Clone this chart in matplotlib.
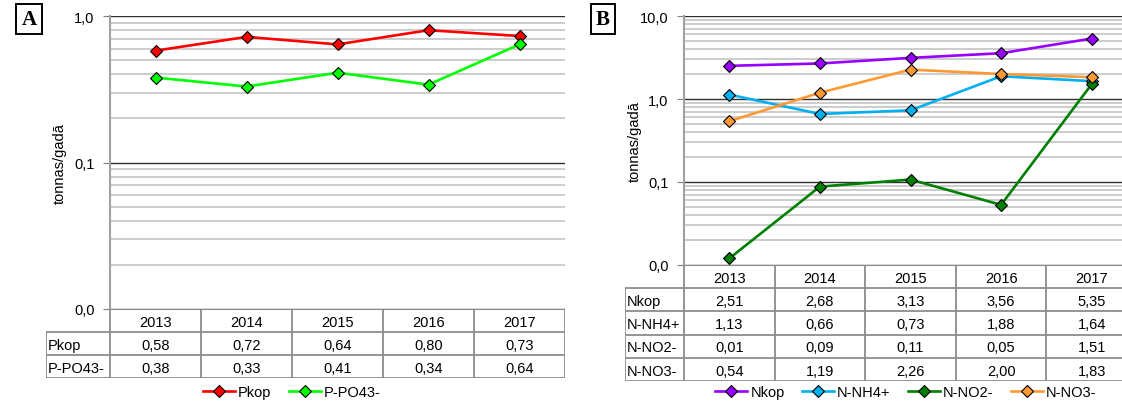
import matplotlib.pyplot as plt
import numpy as np

plt.rcParams['font.family'] = ['Liberation Sans', 'DejaVu Sans']

# Data
years = ["2013", "2014", "2015", "2016", "2017"]

p_names = ["Pkop", "P-PO43-"]
p_kop = [0.58, 0.72, 0.64, 0.80, 0.73]
p_po4 = [0.38, 0.33, 0.41, 0.34, 0.64]
p_colors = ["#ff0000", "#00ff00"]

n_names = ["Nkop", "N-NH4+", "N-NO2-", "N-NO3-"]
n_kop = [2.51, 2.68, 3.13, 3.56, 5.35]
n_nh4 = [1.13, 0.66, 0.73, 1.88, 1.64]
n_no2 = [0.012, 0.088, 0.107, 0.053, 1.51]
n_no3 = [0.54, 1.19, 2.26, 2.00, 1.83]
n_colors = ["#9900ff", "#00b0f0", "#008000", "#ff9933"]

W, H = 1122, 402
FS = 10.5
fig = plt.figure(figsize=(W / 100, H / 100), dpi=100)


def px_axes(x0, y0, x1, y1):
    return fig.add_axes([x0 / W, 1 - y1 / H, (x1 - x0) / W, (y1 - y0) / H])


def fmt(v):
    return f"{v:.2f}".replace(".", ",")


def draw_panel(plot_box, table_box, label_w, names, series, colors, ymin, ymax,
               yticks, ylab_x, letter, letter_xy, legend_xy):
    ax = px_axes(*plot_box)
    x = np.arange(len(years)) + 0.5
    for name, vals, c in zip(names, series, colors):
        ax.plot(x, vals, color=c, lw=1.9, marker="D", ms=6,
                mec="black", mew=0.8, label=name, zorder=3)
    ax.set_yscale("log")
    ax.set_ylim(ymin, ymax)
    ax.set_xlim(0, len(years))
    ax.set_yticks(yticks)
    ax.set_yticklabels([f"{t:.1f}".replace(".", ",") for t in yticks], fontsize=FS)
    ax.yaxis.set_minor_formatter(plt.NullFormatter())
    ax.set_xticks([])
    ax.tick_params(axis="y", which="major", length=5, color="#808080", pad=6)
    ax.tick_params(axis="y", which="minor", length=0)
    ax.grid(True, which="major", axis="y", color="#303030", lw=1.0)
    ax.grid(True, which="minor", axis="y", color="#c8c8c8", lw=1.3)
    for s in ["top", "right", "bottom"]:
        ax.spines[s].set_visible(False)
    ax.spines["left"].set_color("#a0a0a0")
    ax.spines["left"].set_linewidth(1.5)

    # data table
    tx = px_axes(*table_box)
    nrows = len(names) + 1
    tx.set_xlim(-label_w, len(years))
    tx.set_ylim(nrows, 0)
    tx.axis("off")
    lc = "#8c8c8c"
    tx.hlines(0, 0, len(years), color=lc, lw=1.5)
    for r in range(1, nrows + 1):
        tx.hlines(r, -label_w, len(years), color=lc, lw=1.3)
    tx.vlines(-label_w, 1, nrows, color=lc, lw=1.3)
    for c in range(len(years) + 1):
        tx.vlines(c, 0, nrows, color=lc, lw=1.3)
    for c, yr in enumerate(years):
        tx.text(c + 0.5, 0.55, yr, ha="center", va="center", fontsize=FS)
    for r, (name, vals) in enumerate(zip(names, series), start=1):
        tx.text(-label_w + 0.02, r + 0.55, name, ha="left", va="center", fontsize=FS)
        for c, v in enumerate(vals):
            tx.text(c + 0.5, r + 0.55, fmt(v), ha="center", va="center", fontsize=FS)

    fig.text(ylab_x / W, 1 - (plot_box[1] + plot_box[3]) / 2 / H, "tonnas/gadā",
             rotation=90, ha="center", va="center", fontsize=FS)
    fig.text(letter_xy[0] / W, 1 - letter_xy[1] / H, letter, ha="center", va="center",
             fontsize=15, fontweight="bold", family="Liberation Serif",
             bbox=dict(boxstyle="square,pad=0.25", fc="white", ec="black", lw=1.4))
    fig.legend(*ax.get_legend_handles_labels(), loc="center",
               bbox_to_anchor=(legend_xy[0] / W, 1 - legend_xy[1] / H),
               ncol=len(names), frameon=False, fontsize=FS, handlelength=2.2,
               handletextpad=0.2, columnspacing=1.2)


draw_panel((110, 17, 565, 310), (46, 310, 565, 379), 0.70, p_names,
           [p_kop, p_po4], p_colors, 0.01, 1.0, [0.01, 0.1, 1.0],
           60, "A", (29, 20), (292, 393))

draw_panel((684, 17, 1137, 266), (625, 266, 1137, 382), 0.65, n_names,
           [n_kop, n_nh4, n_no2, n_no3], n_colors, 0.01, 10.0, [0.01, 0.1, 1.0, 10.0],
           635, "B", (603, 20), (906, 393))

fig.savefig("out.png", dpi=100)
